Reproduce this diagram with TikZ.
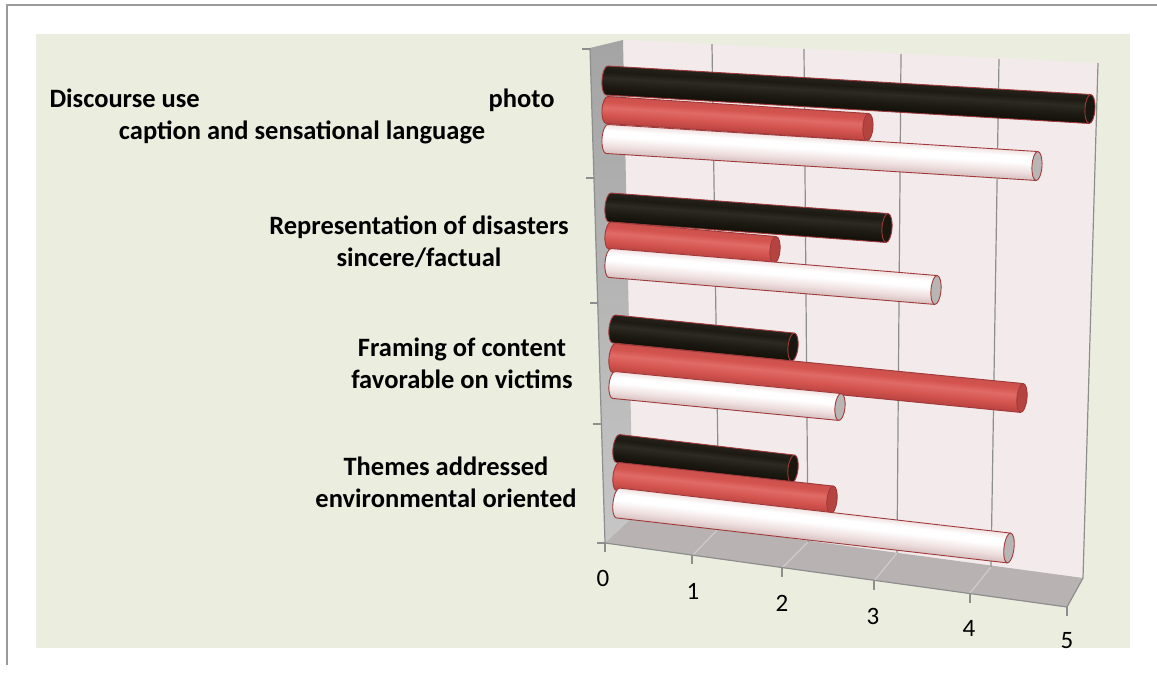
\documentclass[tikz,border=0pt]{standalone}
\usepackage{fontspec}
\setmainfont{Carlito}
\definecolor{panel}{HTML}{EBEEDF}
\definecolor{wallpink}{HTML}{F3EAEB}
\definecolor{sideA}{HTML}{A4A4A4}
\definecolor{sideB}{HTML}{C6C6C6}
\definecolor{floorgray}{HTML}{B8B2B3}
\definecolor{gridc}{HTML}{8E8E8E}
\definecolor{floorgrid}{HTML}{CFCACB}
\definecolor{framec}{HTML}{9A9A9A}
\definecolor{barline}{HTML}{A0393A}
\definecolor{blkD}{HTML}{110F08}
\definecolor{blkM}{HTML}{1C1A12}
\definecolor{blkH}{HTML}{2C2A21}
\definecolor{blkT}{HTML}{24221A}
\definecolor{blkCap}{HTML}{19170F}
\definecolor{redD}{HTML}{B8423F}
\definecolor{redM}{HTML}{D4544F}
\definecolor{redH}{HTML}{E06B66}
\definecolor{redT}{HTML}{CB504C}
\definecolor{redCap}{HTML}{B5433F}
\definecolor{whD}{HTML}{D6BFBF}
\definecolor{whM}{HTML}{EFDFDF}
\definecolor{whH}{HTML}{FFFFFF}
\definecolor{whT}{HTML}{F1E2E2}
\definecolor{whCap}{HTML}{BAB5B5}
\pgfdeclareverticalshading{cylblack}{100bp}{color(0bp)=(blkD); color(25bp)=(blkD); color(40bp)=(blkM); color(55bp)=(blkH); color(65bp)=(blkM); color(75bp)=(blkT); color(100bp)=(blkT)}
\pgfdeclareverticalshading{cylred}{100bp}{color(0bp)=(redD); color(25bp)=(redD); color(40bp)=(redM); color(55bp)=(redH); color(65bp)=(redM); color(75bp)=(redT); color(100bp)=(redT)}
\pgfdeclareverticalshading{cylwhite}{100bp}{color(0bp)=(whD); color(25bp)=(whD); color(38bp)=(whM); color(55bp)=(whH); color(65bp)=(whH); color(75bp)=(whT); color(100bp)=(whT)}
\tikzset{
  catlabel/.style={font=\bfseries\fontsize{26.5}{32}\selectfont, align=center, inner sep=0pt},
  numlabel/.style={font=\fontsize{25}{28}\selectfont, inner sep=0pt},
  wallgrid/.style={draw=gridc, line width=1.2pt},
  floorline/.style={draw=floorgrid, line width=1.2pt},
  outl/.style={draw=barline, line width=0.9pt},
}
\newcommand\drawbar[7]{%
  \pgfmathsetmacro\bdx{#3-#1}%
  \pgfmathsetmacro\bdy{#4-#2}%
  \pgfmathsetmacro\blen{veclen(\bdx,\bdy)}%
  \pgfmathsetmacro\bang{-atan2(\bdy,\bdx)}%
  \pgfmathsetmacro\brad{#5/2}%
  \begin{scope}[transform canvas={shift={(#1,#2)},rotate=\bang}]
    \shade[shading=#6] (0,-\brad) -- (\blen,-\brad) -- (\blen,\brad) -- (0,\brad)
      arc[start angle=90,end angle=270,x radius=5,y radius=\brad] -- cycle;
    \draw[outl] (\blen,-\brad) -- (0,-\brad)
      arc[start angle=270,end angle=90,x radius=5,y radius=\brad] -- (\blen,\brad);
    \filldraw[outl, fill=#7] (\blen,0) ellipse[x radius=5,y radius=\brad];
  \end{scope}
}
\begin{document}
\begin{tikzpicture}[x=1pt,y=-1pt,line join=round]
\useasboundingbox (0,0) rectangle (1157,675);
\fill[white] (0,0) rectangle (1157,675);
\draw[framec, line width=1.5pt] (7,665) -- (7,5) -- (1157,5);
\fill[panel] (36,34) rectangle (1130,648);

% back wall, side wall, floor
\fill[wallpink] (623,40) -- (1098,63) -- (1083,578) -- (633,517) -- cycle;
\shade[top color=sideA,bottom color=sideB] (590,48) -- (623,40) -- (633,517) -- (605,543) -- cycle;
\fill[floorgray] (633,517) -- (1083,578) -- (1067,607) -- (605,543) -- cycle;

% wall grid lines
\foreach \a/\b/\c/\d in {712/44/719/528, 804/49/808/542, 901/54/897/553, 999/59/991/567, 1098/63/1083/578}
  \draw[wallgrid] (\a,\b) -- (\c,\d);
% floor grid lines
\foreach \c/\d/\e/\f in {719/528/692/556, 808/542/782/568, 897/553/874/581, 991/567/970/593}
  \draw[floorline] (\c,\d) -- (\e,\f);
\draw[wallgrid] (1083,578) -- (1067,607);
% front edge and ticks
\draw[wallgrid] (605,543) -- (1067,607);
\foreach \e/\f in {605/543, 692/555, 782/568, 874/581, 970/594, 1067/607}
  \draw[wallgrid] (\e,\f) -- ++(0,9);
% left edge and ticks
\draw[wallgrid] (590,48) -- (605,543);
\foreach \e/\f in {590/49, 594/178, 597.7/303, 601.4/424, 605/543}
  \draw[wallgrid] (\e,\f) -- ++(-8,0);

% axis numbers
\node[numlabel] (n0) at (603,578) {0};
\node[numlabel] (n1) at (693,591) {1};
\node[numlabel] (n2) at (782,603) {2};
\node[numlabel] (n3) at (873,616) {3};
\node[numlabel] (n4) at (969,628) {4};
\node[numlabel] (n5) at (1067,641) {5};

% bars group 1
\drawbar{607}{80.5}{1090}{109}{29}{cylblack}{blkCap}
\drawbar{607}{110}{868}{127}{27}{cylred}{redCap}
\drawbar{607}{139}{1037}{166}{29}{cylwhite}{whCap}
% group 2
\drawbar{610}{207.5}{887}{228}{29}{cylblack}{blkCap}
\drawbar{610}{235.5}{775}{250}{27}{cylred}{redCap}
\drawbar{610}{263}{936}{290}{29}{cylwhite}{whCap}
% group 3
\drawbar{614}{329}{793}{347}{28}{cylblack}{blkCap}
\drawbar{614}{358}{1022}{398}{29}{cylred}{redCap}
\drawbar{614}{385}{840}{407}{27}{cylwhite}{whCap}
% group 4
\drawbar{618}{448.5}{793}{469}{28}{cylblack}{blkCap}
\drawbar{618}{476.5}{832}{500}{28}{cylred}{redCap}
\drawbar{618}{503}{1009}{548}{30}{cylwhite}{whCap}

% category labels (anchored on the baseline of the last line)
\node[catlabel, anchor=base] (c1) at (302,139)
  {\makebox[505pt][l]{Discourse use\hfill photo}\\caption and sensational language};
\node[catlabel, anchor=base] (c2) at (419,266) {Representation of disasters\\sincere/factual};
\node[catlabel, anchor=base] (c3) at (462,388) {Framing of content\\favorable on victims};
\node[catlabel, anchor=base] (c4) at (446,507) {Themes addressed\\environmental oriented};
\end{tikzpicture}
\end{document}
